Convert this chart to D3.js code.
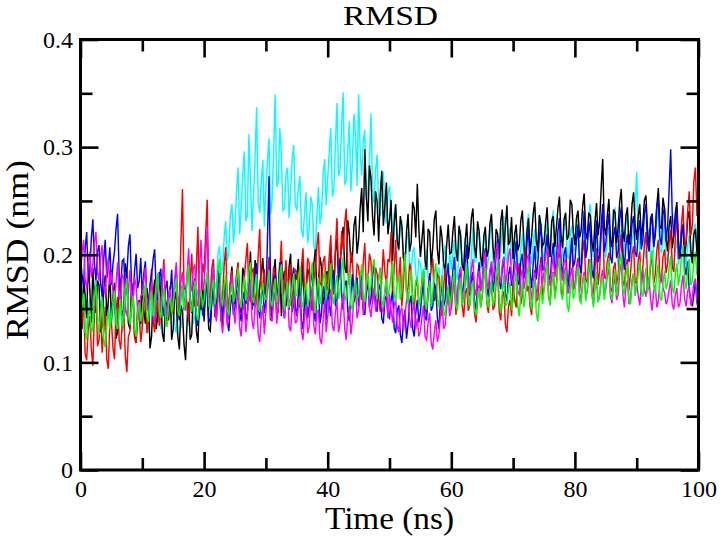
<!DOCTYPE html>
<html>
<head>
<meta charset="utf-8">
<script src="https://cdn.jsdelivr.net/npm/d3@7"></script>
<style>
html,body{margin:0;padding:0;background:#fff;}
svg{display:block;}
svg text{font-family:"Liberation Serif","Times New Roman",Times,serif !important;fill:#000;}
</style>
</head>
<body>
<svg id="chart" width="724" height="538"></svg>
<script>
// ---- data ----
const chartTitle = "RMSD";
const xTitle = "Time (ns)";
const yTitle = "RMSD (nm)";
const xTickValues = [0, 20, 40, 60, 80, 100];
const xTickLabels = ["0", "20", "40", "60", "80", "100"];
const xMinorTicks = [10, 30, 50, 70, 90];
const yTickValues = [0, 0.1, 0.2, 0.3, 0.4];
const yTickLabels = ["0", "0.1", "0.2", "0.3", "0.4"];
const yMinorTicks = [0.05, 0.15, 0.25, 0.35];

const time = [
0,0.25,0.5,0.75,1,1.25,1.5,1.75,2,2.25,2.5,2.75,3,3.25,3.5,3.75,4,4.25,4.5,4.75,
5,5.25,5.5,5.75,6,6.25,6.5,6.75,7,7.25,7.5,7.75,8,8.25,8.5,8.75,9,9.25,9.5,9.75,
10,10.25,10.5,10.75,11,11.25,11.5,11.75,12,12.25,12.5,12.75,13,13.25,13.5,13.75,14,14.25,14.5,14.75,
15,15.25,15.5,15.75,16,16.25,16.5,16.75,17,17.25,17.5,17.75,18,18.25,18.5,18.75,19,19.25,19.5,19.75,
20,20.25,20.5,20.75,21,21.25,21.5,21.75,22,22.25,22.5,22.75,23,23.25,23.5,23.75,24,24.25,24.5,24.75,
25,25.25,25.5,25.75,26,26.25,26.5,26.75,27,27.25,27.5,27.75,28,28.25,28.5,28.75,29,29.25,29.5,29.75,
30,30.25,30.5,30.75,31,31.25,31.5,31.75,32,32.25,32.5,32.75,33,33.25,33.5,33.75,34,34.25,34.5,34.75,
35,35.25,35.5,35.75,36,36.25,36.5,36.75,37,37.25,37.5,37.75,38,38.25,38.5,38.75,39,39.25,39.5,39.75,
40,40.25,40.5,40.75,41,41.25,41.5,41.75,42,42.25,42.5,42.75,43,43.25,43.5,43.75,44,44.25,44.5,44.75,
45,45.25,45.5,45.75,46,46.25,46.5,46.75,47,47.25,47.5,47.75,48,48.25,48.5,48.75,49,49.25,49.5,49.75,
50,50.25,50.5,50.75,51,51.25,51.5,51.75,52,52.25,52.5,52.75,53,53.25,53.5,53.75,54,54.25,54.5,54.75,
55,55.25,55.5,55.75,56,56.25,56.5,56.75,57,57.25,57.5,57.75,58,58.25,58.5,58.75,59,59.25,59.5,59.75,
60,60.25,60.5,60.75,61,61.25,61.5,61.75,62,62.25,62.5,62.75,63,63.25,63.5,63.75,64,64.25,64.5,64.75,
65,65.25,65.5,65.75,66,66.25,66.5,66.75,67,67.25,67.5,67.75,68,68.25,68.5,68.75,69,69.25,69.5,69.75,
70,70.25,70.5,70.75,71,71.25,71.5,71.75,72,72.25,72.5,72.75,73,73.25,73.5,73.75,74,74.25,74.5,74.75,
75,75.25,75.5,75.75,76,76.25,76.5,76.75,77,77.25,77.5,77.75,78,78.25,78.5,78.75,79,79.25,79.5,79.75,
80,80.25,80.5,80.75,81,81.25,81.5,81.75,82,82.25,82.5,82.75,83,83.25,83.5,83.75,84,84.25,84.5,84.75,
85,85.25,85.5,85.75,86,86.25,86.5,86.75,87,87.25,87.5,87.75,88,88.25,88.5,88.75,89,89.25,89.5,89.75,
90,90.25,90.5,90.75,91,91.25,91.5,91.75,92,92.25,92.5,92.75,93,93.25,93.5,93.75,94,94.25,94.5,94.75,
95,95.25,95.5,95.75,96,96.25,96.5,96.75,97,97.25,97.5,97.75,98,98.25,98.5,98.75,99,99.25,99.5,99.75,
100];

const rmsdBlack = [
0.152,0.131,0.178,0.163,0.141,0.194,0.169,0.137,0.188,0.159,0.146,0.176,0.172,0.128,0.134,0.167,0.181,0.143,0.157,0.185,
0.139,0.161,0.174,0.122,0.128,0.177,0.166,0.141,0.149,0.192,0.183,0.136,0.131,0.171,0.162,0.125,0.118,0.149,0.158,0.136,
0.171,0.148,0.136,0.169,0.158,0.113,0.124,0.162,0.177,0.131,0.143,0.184,0.161,0.127,0.119,0.158,0.152,0.139,0.168,0.121,
0.131,0.166,0.159,0.124,0.112,0.153,0.147,0.117,0.102,0.138,0.156,0.121,0.126,0.164,0.171,0.129,0.118,0.157,0.149,0.176,
0.138,0.172,0.166,0.131,0.129,0.158,0.181,0.142,0.147,0.186,0.163,0.139,0.134,0.168,0.177,0.145,0.152,0.174,0.189,0.153,
0.158,0.179,0.192,0.151,0.146,0.188,0.181,0.154,0.167,0.176,0.203,0.162,0.153,0.195,0.186,0.148,0.171,0.183,0.197,0.164,
0.162,0.174,0.188,0.139,0.149,0.181,0.196,0.158,0.171,0.193,0.143,0.176,0.185,0.152,0.164,0.189,0.201,0.147,0.155,0.182,
0.177,0.196,0.151,0.168,0.194,0.142,0.166,0.187,0.182,0.157,0.148,0.191,0.205,0.163,0.172,0.198,0.189,0.154,0.161,0.184,
0.184,0.163,0.208,0.179,0.172,0.203,0.215,0.176,0.191,0.211,0.226,0.188,0.183,0.232,0.219,0.192,0.198,0.227,0.236,0.201,
0.214,0.243,0.262,0.221,0.298,0.254,0.231,0.283,0.271,0.236,0.218,0.259,0.249,0.212,0.256,0.278,0.227,0.245,0.267,0.219,
0.232,0.251,0.194,0.228,0.247,0.213,0.205,0.236,0.226,0.197,0.188,0.221,0.238,0.203,0.211,0.249,0.243,0.216,0.266,0.224,
0.198,0.214,0.232,0.195,0.186,0.224,0.221,0.189,0.207,0.233,0.241,0.204,0.191,0.227,0.216,0.193,0.183,0.209,0.228,0.201,
0.202,0.221,0.236,0.205,0.194,0.227,0.218,0.191,0.185,0.213,0.229,0.196,0.211,0.234,0.243,0.208,0.197,0.231,0.222,0.199,
0.189,0.217,0.226,0.198,0.204,0.229,0.238,0.207,0.192,0.224,0.219,0.196,0.231,0.242,0.201,0.226,0.246,0.209,0.213,0.235,
0.196,0.219,0.228,0.204,0.209,0.232,0.241,0.211,0.187,0.222,0.234,0.201,0.217,0.238,0.249,0.214,0.203,0.237,0.226,0.208,
0.211,0.229,0.244,0.212,0.198,0.231,0.236,0.207,0.225,0.243,0.254,0.219,0.206,0.233,0.239,0.214,0.218,0.251,0.247,0.221,
0.209,0.234,0.241,0.216,0.222,0.245,0.257,0.221,0.214,0.239,0.236,0.212,0.203,0.231,0.248,0.218,0.231,0.262,0.289,0.226,
0.218,0.237,0.252,0.214,0.207,0.242,0.239,0.211,0.226,0.249,0.261,0.223,0.212,0.236,0.244,0.209,0.221,0.247,0.258,0.227,
0.214,0.236,0.247,0.213,0.229,0.251,0.255,0.222,0.206,0.234,0.238,0.209,0.219,0.245,0.262,0.227,0.224,0.253,0.243,0.216,
0.203,0.227,0.236,0.206,0.218,0.239,0.249,0.213,0.197,0.221,0.228,0.198,0.211,0.234,0.241,0.204,0.192,0.219,0.224,0.201,
0.205];

const rmsdRed = [
0.118,0.139,0.156,0.108,0.102,0.131,0.143,0.112,0.097,0.146,0.168,0.115,0.121,0.153,0.109,0.128,0.152,0.103,0.094,0.137,
0.138,0.114,0.103,0.149,0.161,0.121,0.112,0.136,0.147,0.106,0.091,0.124,0.129,0.158,0.174,0.122,0.118,0.151,0.143,0.119,
0.132,0.154,0.166,0.127,0.141,0.172,0.187,0.139,0.128,0.149,0.159,0.134,0.145,0.178,0.196,0.143,0.137,0.161,0.171,0.146,
0.148,0.171,0.183,0.142,0.157,0.212,0.261,0.168,0.169,0.153,0.138,0.176,0.201,0.159,0.152,0.189,0.226,0.147,0.164,0.192,
0.183,0.219,0.251,0.164,0.158,0.186,0.196,0.151,0.142,0.169,0.178,0.146,0.163,0.191,0.207,0.158,0.149,0.174,0.185,0.155,
0.161,0.182,0.193,0.154,0.148,0.173,0.179,0.195,0.211,0.163,0.156,0.184,0.188,0.151,0.166,0.199,0.224,0.168,0.172,0.187,
0.153,0.177,0.198,0.161,0.167,0.189,0.182,0.149,0.146,0.184,0.213,0.162,0.174,0.195,0.159,0.178,0.191,0.155,0.168,0.186,
0.184,0.165,0.157,0.189,0.206,0.163,0.169,0.197,0.192,0.158,0.148,0.176,0.187,0.208,0.221,0.174,0.171,0.193,0.199,0.167,
0.176,0.199,0.218,0.171,0.163,0.207,0.234,0.186,0.181,0.222,0.205,0.229,0.243,0.184,0.172,0.203,0.196,0.161,0.167,0.191,
0.189,0.172,0.158,0.193,0.211,0.168,0.176,0.201,0.194,0.157,0.163,0.188,0.182,0.161,0.147,0.179,0.205,0.184,0.171,0.196,
0.193,0.221,0.161,0.187,0.214,0.174,0.178,0.198,0.152,0.173,0.202,0.165,0.169,0.192,0.186,0.159,0.148,0.171,0.177,0.154,
0.158,0.176,0.184,0.152,0.145,0.168,0.173,0.187,0.196,0.157,0.161,0.182,0.179,0.151,0.143,0.169,0.188,0.155,0.166,0.181,
0.149,0.168,0.177,0.144,0.158,0.179,0.186,0.153,0.142,0.164,0.169,0.148,0.154,0.175,0.181,0.146,0.137,0.159,0.172,0.151,
0.161,0.178,0.189,0.155,0.146,0.168,0.174,0.149,0.152,0.176,0.183,0.147,0.139,0.161,0.166,0.135,0.128,0.152,0.158,0.143,
0.176,0.158,0.151,0.179,0.192,0.154,0.163,0.188,0.207,0.166,0.171,0.152,0.144,0.169,0.186,0.157,0.159,0.183,0.198,0.162,
0.168,0.185,0.193,0.159,0.157,0.178,0.184,0.163,0.172,0.196,0.205,0.167,0.161,0.182,0.188,0.164,0.176,0.199,0.213,0.171,
0.169,0.188,0.197,0.165,0.182,0.203,0.214,0.177,0.174,0.196,0.191,0.168,0.163,0.187,0.206,0.172,0.185,0.219,0.237,0.179,
0.178,0.194,0.202,0.169,0.166,0.187,0.193,0.172,0.181,0.205,0.219,0.176,0.171,0.191,0.196,0.167,0.183,0.201,0.208,0.174,
0.174,0.195,0.203,0.171,0.189,0.209,0.221,0.178,0.168,0.192,0.197,0.173,0.182,0.204,0.214,0.179,0.176,0.198,0.205,0.183,
0.192,0.211,0.223,0.189,0.184,0.217,0.238,0.196,0.201,0.229,0.246,0.207,0.213,0.241,0.259,0.218,0.227,0.268,0.281,0.236,
0.262];

const rmsdBlue = [
0.198,0.181,0.171,0.206,0.221,0.179,0.184,0.215,0.233,0.192,0.176,0.203,0.209,0.174,0.161,0.196,0.214,0.178,0.189,0.207,
0.172,0.191,0.203,0.224,0.238,0.183,0.168,0.194,0.196,0.163,0.181,0.208,0.219,0.174,0.157,0.185,0.201,0.169,0.176,0.197,
0.162,0.183,0.194,0.157,0.148,0.171,0.181,0.196,0.205,0.166,0.158,0.179,0.187,0.152,0.143,0.168,0.176,0.151,0.164,0.186,
0.153,0.171,0.184,0.148,0.139,0.163,0.172,0.149,0.161,0.182,0.191,0.157,0.146,0.169,0.178,0.141,0.134,0.156,0.167,0.145,
0.148,0.164,0.176,0.141,0.137,0.159,0.169,0.146,0.155,0.174,0.183,0.152,0.142,0.165,0.171,0.138,0.129,0.152,0.163,0.144,
0.152,0.168,0.181,0.147,0.138,0.159,0.166,0.139,0.145,0.171,0.177,0.149,0.158,0.182,0.192,0.153,0.141,0.162,0.169,0.146,
0.157,0.214,0.273,0.176,0.148,0.167,0.182,0.154,0.163,0.185,0.194,0.158,0.141,0.162,0.176,0.149,0.159,0.178,0.188,0.151,
0.143,0.164,0.172,0.139,0.131,0.154,0.167,0.141,0.152,0.176,0.184,0.147,0.138,0.161,0.175,0.136,0.146,0.171,0.162,0.139,
0.171,0.154,0.143,0.168,0.186,0.152,0.158,0.181,0.197,0.163,0.149,0.172,0.176,0.147,0.138,0.164,0.182,0.156,0.161,0.179,
0.152,0.171,0.181,0.149,0.144,0.166,0.173,0.151,0.159,0.182,0.191,0.154,0.147,0.173,0.168,0.141,0.136,0.158,0.162,0.143,
0.141,0.157,0.166,0.132,0.127,0.148,0.153,0.126,0.118,0.139,0.149,0.122,0.135,0.156,0.162,0.131,0.124,0.146,0.158,0.137,
0.147,0.163,0.175,0.142,0.139,0.166,0.183,0.148,0.152,0.174,0.168,0.141,0.131,0.159,0.176,0.152,0.158,0.181,0.192,0.161,
0.166,0.185,0.198,0.163,0.154,0.176,0.187,0.159,0.171,0.194,0.209,0.168,0.162,0.179,0.184,0.156,0.149,0.178,0.193,0.167,
0.174,0.193,0.206,0.169,0.161,0.183,0.192,0.165,0.178,0.201,0.215,0.176,0.168,0.187,0.198,0.163,0.157,0.181,0.189,0.171,
0.181,0.199,0.213,0.176,0.172,0.194,0.201,0.178,0.186,0.212,0.224,0.183,0.169,0.191,0.208,0.177,0.193,0.217,0.229,0.186,
0.187,0.206,0.219,0.181,0.176,0.198,0.211,0.184,0.193,0.222,0.234,0.191,0.182,0.201,0.207,0.178,0.171,0.197,0.216,0.189,
0.194,0.213,0.228,0.191,0.183,0.216,0.241,0.197,0.206,0.231,0.219,0.186,0.178,0.204,0.232,0.193,0.199,0.226,0.247,0.203,
0.211,0.227,0.238,0.198,0.192,0.218,0.226,0.197,0.203,0.233,0.244,0.204,0.186,0.209,0.219,0.193,0.207,0.229,0.236,0.202,
0.198,0.221,0.232,0.205,0.214,0.239,0.247,0.211,0.203,0.226,0.238,0.207,0.221,0.245,0.251,0.216,0.209,0.237,0.244,0.212,
0.226,0.261,0.298,0.238,0.217,0.231,0.243,0.207,0.196,0.219,0.228,0.189,0.181,0.194,0.167,0.158,0.152,0.163,0.175,0.156,
0.148];

const rmsdCyan = [
0.142,0.157,0.168,0.136,0.131,0.151,0.159,0.134,0.147,0.165,0.176,0.143,0.138,0.154,0.163,0.132,0.129,0.146,0.155,0.137,
0.137,0.149,0.161,0.131,0.126,0.144,0.152,0.128,0.141,0.162,0.169,0.138,0.133,0.151,0.158,0.127,0.122,0.139,0.147,0.131,
0.139,0.154,0.163,0.133,0.128,0.147,0.156,0.136,0.144,0.162,0.171,0.139,0.131,0.149,0.159,0.134,0.137,0.155,0.166,0.141,
0.148,0.135,0.127,0.152,0.161,0.132,0.139,0.164,0.172,0.141,0.134,0.153,0.157,0.136,0.143,0.161,0.168,0.142,0.151,0.173,
0.158,0.171,0.183,0.152,0.167,0.189,0.196,0.168,0.174,0.201,0.208,0.181,0.189,0.216,0.231,0.194,0.203,0.236,0.247,0.211,
0.228,0.259,0.281,0.219,0.243,0.274,0.296,0.231,0.236,0.312,0.271,0.222,0.254,0.291,0.337,0.248,0.239,0.268,0.288,0.226,
0.262,0.287,0.308,0.238,0.251,0.296,0.349,0.263,0.267,0.318,0.294,0.241,0.243,0.275,0.281,0.234,0.258,0.289,0.302,0.247,
0.241,0.262,0.273,0.224,0.216,0.239,0.258,0.211,0.223,0.254,0.247,0.208,0.204,0.236,0.263,0.229,0.238,0.274,0.289,0.246,
0.271,0.296,0.318,0.254,0.262,0.303,0.341,0.273,0.279,0.322,0.351,0.266,0.268,0.297,0.324,0.259,0.286,0.331,0.312,0.264,
0.349,0.297,0.274,0.305,0.316,0.251,0.259,0.288,0.331,0.262,0.248,0.279,0.293,0.244,0.236,0.268,0.277,0.241,0.229,0.256,
0.264,0.236,0.218,0.239,0.246,0.211,0.203,0.227,0.232,0.198,0.191,0.214,0.221,0.193,0.184,0.203,0.207,0.182,0.176,0.195,
0.192,0.177,0.168,0.191,0.205,0.179,0.173,0.194,0.197,0.171,0.161,0.183,0.188,0.166,0.174,0.198,0.209,0.186,0.181,0.202,
0.186,0.203,0.214,0.183,0.177,0.204,0.223,0.189,0.191,0.216,0.208,0.181,0.172,0.199,0.226,0.193,0.194,0.221,0.218,0.188,
0.187,0.209,0.221,0.186,0.196,0.218,0.232,0.194,0.181,0.203,0.214,0.189,0.203,0.228,0.236,0.198,0.192,0.216,0.225,0.191,
0.198,0.214,0.227,0.193,0.184,0.207,0.219,0.195,0.206,0.229,0.238,0.201,0.191,0.212,0.224,0.196,0.209,0.236,0.231,0.203,
0.193,0.216,0.229,0.197,0.207,0.231,0.241,0.203,0.188,0.209,0.218,0.192,0.201,0.226,0.234,0.199,0.196,0.221,0.227,0.204,
0.204,0.221,0.236,0.199,0.192,0.216,0.228,0.201,0.211,0.238,0.247,0.207,0.198,0.223,0.232,0.202,0.206,0.229,0.239,0.208,
0.197,0.218,0.226,0.204,0.213,0.233,0.244,0.206,0.189,0.211,0.223,0.198,0.208,0.229,0.237,0.201,0.194,0.215,0.219,0.243,
0.277,0.226,0.203,0.219,0.231,0.207,0.196,0.214,0.224,0.198,0.188,0.209,0.216,0.232,0.241,0.206,0.201,0.219,0.228,0.197,
0.194,0.211,0.222,0.193,0.186,0.205,0.214,0.191,0.201,0.226,0.236,0.204,0.191,0.209,0.218,0.196,0.207,0.224,0.229,0.208,
0.215];

const rmsdMagenta = [
0.182,0.201,0.214,0.177,0.168,0.193,0.203,0.179,0.191,0.212,0.221,0.184,0.176,0.198,0.209,0.171,0.163,0.186,0.197,0.172,
0.184,0.166,0.152,0.174,0.193,0.158,0.161,0.182,0.178,0.149,0.143,0.167,0.186,0.163,0.157,0.179,0.171,0.148,0.139,0.162,
0.163,0.176,0.188,0.152,0.147,0.166,0.172,0.144,0.136,0.158,0.179,0.149,0.154,0.177,0.191,0.156,0.143,0.161,0.168,0.151,
0.157,0.178,0.193,0.155,0.161,0.176,0.184,0.153,0.148,0.182,0.206,0.164,0.169,0.187,0.191,0.158,0.152,0.189,0.214,0.167,
0.173,0.198,0.226,0.164,0.151,0.172,0.189,0.146,0.138,0.159,0.174,0.139,0.127,0.148,0.162,0.134,0.144,0.168,0.181,0.149,
0.136,0.154,0.168,0.133,0.124,0.147,0.157,0.128,0.142,0.165,0.176,0.139,0.131,0.152,0.161,0.127,0.119,0.141,0.153,0.126,
0.147,0.168,0.179,0.142,0.138,0.157,0.166,0.136,0.152,0.174,0.188,0.149,0.141,0.162,0.172,0.133,0.129,0.151,0.163,0.137,
0.138,0.151,0.162,0.129,0.121,0.143,0.154,0.127,0.133,0.158,0.171,0.134,0.126,0.146,0.149,0.122,0.117,0.139,0.158,0.128,
0.142,0.156,0.168,0.134,0.129,0.147,0.157,0.128,0.136,0.153,0.164,0.131,0.121,0.143,0.152,0.126,0.139,0.161,0.173,0.141,
0.148,0.163,0.176,0.144,0.157,0.171,0.183,0.152,0.142,0.158,0.169,0.147,0.161,0.179,0.188,0.151,0.146,0.164,0.172,0.141,
0.164,0.149,0.137,0.152,0.159,0.134,0.128,0.147,0.151,0.129,0.143,0.157,0.166,0.141,0.132,0.148,0.155,0.131,0.141,0.124,
0.129,0.142,0.153,0.124,0.121,0.137,0.146,0.118,0.112,0.128,0.139,0.119,0.126,0.144,0.158,0.131,0.134,0.151,0.162,0.143,
0.151,0.167,0.178,0.152,0.163,0.181,0.189,0.164,0.157,0.176,0.183,0.161,0.171,0.187,0.196,0.169,0.162,0.178,0.185,0.166,
0.176,0.192,0.203,0.174,0.169,0.186,0.194,0.177,0.188,0.205,0.211,0.181,0.173,0.191,0.198,0.172,0.182,0.199,0.206,0.178,
0.172,0.186,0.194,0.166,0.163,0.179,0.187,0.168,0.178,0.196,0.201,0.171,0.158,0.174,0.183,0.162,0.169,0.188,0.192,0.173,
0.184,0.199,0.207,0.178,0.171,0.189,0.198,0.179,0.189,0.204,0.212,0.183,0.176,0.193,0.196,0.171,0.164,0.181,0.188,0.168,
0.171,0.185,0.193,0.164,0.158,0.176,0.184,0.161,0.166,0.183,0.191,0.163,0.154,0.171,0.178,0.156,0.162,0.179,0.186,0.165,
0.168,0.181,0.187,0.161,0.155,0.172,0.179,0.158,0.163,0.184,0.192,0.164,0.151,0.169,0.176,0.154,0.159,0.177,0.183,0.162,
0.174,0.162,0.153,0.171,0.186,0.167,0.161,0.176,0.179,0.158,0.148,0.166,0.172,0.151,0.157,0.174,0.183,0.169,0.165,0.154,
0.158,0.168,0.176,0.154,0.149,0.163,0.169,0.151,0.155,0.172,0.181,0.159,0.152,0.166,0.171,0.153,0.161,0.174,0.178,0.157,
0.167];

const rmsdGreen = [
0.138,0.152,0.164,0.129,0.121,0.143,0.152,0.127,0.133,0.161,0.171,0.139,0.126,0.147,0.158,0.122,0.114,0.136,0.149,0.131,
0.142,0.158,0.167,0.136,0.131,0.149,0.159,0.134,0.146,0.168,0.178,0.143,0.135,0.153,0.162,0.131,0.124,0.145,0.156,0.138,
0.149,0.163,0.174,0.142,0.138,0.157,0.166,0.143,0.152,0.172,0.183,0.148,0.141,0.159,0.169,0.139,0.133,0.152,0.161,0.146,
0.154,0.169,0.179,0.148,0.143,0.162,0.172,0.149,0.158,0.181,0.191,0.155,0.147,0.166,0.176,0.144,0.139,0.158,0.168,0.151,
0.158,0.173,0.184,0.153,0.149,0.168,0.177,0.154,0.163,0.186,0.196,0.159,0.152,0.171,0.181,0.148,0.144,0.162,0.173,0.156,
0.161,0.176,0.188,0.156,0.151,0.169,0.179,0.157,0.166,0.184,0.193,0.161,0.155,0.173,0.182,0.151,0.147,0.165,0.174,0.158,
0.159,0.174,0.186,0.157,0.152,0.169,0.178,0.155,0.164,0.182,0.191,0.158,0.148,0.167,0.176,0.151,0.157,0.171,0.183,0.162,
0.162,0.178,0.189,0.157,0.151,0.166,0.174,0.153,0.158,0.181,0.193,0.159,0.146,0.168,0.179,0.154,0.163,0.177,0.186,0.159,
0.166,0.179,0.192,0.161,0.154,0.172,0.181,0.159,0.168,0.187,0.198,0.163,0.157,0.174,0.184,0.153,0.149,0.168,0.177,0.158,
0.163,0.179,0.191,0.161,0.156,0.173,0.183,0.162,0.171,0.189,0.196,0.164,0.159,0.176,0.187,0.157,0.152,0.169,0.178,0.161,
0.168,0.182,0.194,0.163,0.157,0.174,0.182,0.158,0.166,0.188,0.201,0.167,0.154,0.172,0.186,0.156,0.161,0.176,0.179,0.152,
0.158,0.174,0.187,0.154,0.149,0.166,0.176,0.152,0.164,0.183,0.192,0.159,0.151,0.168,0.181,0.147,0.143,0.161,0.172,0.153,
0.161,0.176,0.186,0.153,0.148,0.168,0.179,0.154,0.157,0.181,0.191,0.158,0.152,0.171,0.176,0.149,0.144,0.162,0.169,0.151,
0.163,0.178,0.188,0.156,0.151,0.167,0.177,0.153,0.159,0.183,0.193,0.158,0.146,0.165,0.181,0.152,0.155,0.169,0.174,0.149,
0.157,0.172,0.185,0.152,0.143,0.163,0.176,0.151,0.162,0.182,0.191,0.157,0.149,0.168,0.179,0.146,0.138,0.159,0.171,0.154,
0.166,0.181,0.192,0.161,0.153,0.172,0.183,0.159,0.169,0.188,0.197,0.164,0.158,0.176,0.186,0.154,0.147,0.167,0.178,0.159,
0.164,0.179,0.189,0.158,0.155,0.172,0.181,0.157,0.167,0.186,0.196,0.163,0.151,0.171,0.184,0.156,0.162,0.176,0.178,0.158,
0.171,0.186,0.197,0.164,0.158,0.177,0.186,0.162,0.173,0.193,0.202,0.168,0.163,0.181,0.191,0.159,0.154,0.172,0.183,0.163,
0.169,0.183,0.194,0.166,0.161,0.178,0.188,0.164,0.176,0.195,0.204,0.171,0.165,0.182,0.192,0.161,0.157,0.174,0.185,0.168,
0.173,0.188,0.199,0.169,0.164,0.182,0.192,0.171,0.181,0.198,0.209,0.176,0.168,0.186,0.196,0.172,0.176,0.193,0.203,0.181,
0.188];

const seriesNames = ["cyan", "black", "red", "blue", "magenta", "green"];
const seriesValues = [rmsdCyan, rmsdBlack, rmsdRed, rmsdBlue, rmsdMagenta, rmsdGreen];
const seriesColors = ["#00ffff", "#000000", "#ff0000", "#0000ff", "#ff00ff", "#00ff00"];

// ---- layout ----
const W = 724, H = 538;
const margin = {left: 80.5, right: 25.5, top: 39.5, bottom: 68};
const pw = W - margin.left - margin.right;
const ph = H - margin.top - margin.bottom;
const serif = '"Liberation Serif","Times New Roman",Times,serif';

const svg = d3.select("#chart");
const g = svg.append("g").attr("transform", `translate(${margin.left},${margin.top})`);

const x = d3.scaleLinear().domain([0, 100]).range([0, pw]);
const y = d3.scaleLinear().domain([0, 0.4]).range([ph, 0]);

g.append("clipPath").attr("id", "clip").append("rect")
  .attr("x", 0).attr("y", 0).attr("width", pw).attr("height", ph);

const line = d3.line().x((d, i) => x(time[i])).y(d => y(d));

const dataG = g.append("g").attr("clip-path", "url(#clip)");
seriesValues.forEach((vals, k) => {
  dataG.append("path")
    .datum(vals)
    .attr("fill", "none")
    .attr("stroke", seriesColors[k])
    .attr("stroke-width", 1.45)
    .attr("stroke-linejoin", "miter")
    .attr("d", line);
});

// ---- axes (ticks inward on all four sides) ----
const fontTick = 24;
function styleAxis(sel, tickW) {
  sel.attr("font-family", serif);
  sel.select(".domain").remove();
  sel.selectAll(".tick line").attr("stroke", "#000").attr("stroke-width", tickW);
  sel.selectAll(".tick text").style("font-family", serif).attr("font-size", fontTick);
}

const xMajor = g.append("g").attr("transform", `translate(0,${ph})`)
  .call(d3.axisBottom(x).tickValues(xTickValues).tickSize(-18).tickPadding(10)
    .tickFormat((d, i) => xTickLabels[i]));
styleAxis(xMajor, 2.6);

const xMinor = g.append("g").attr("transform", `translate(0,${ph})`)
  .call(d3.axisBottom(x).tickValues(xMinorTicks).tickSize(-12).tickFormat(""));
styleAxis(xMinor, 2.6);

const xTopMajor = g.append("g")
  .call(d3.axisTop(x).tickValues(xTickValues).tickSize(-18).tickFormat(""));
styleAxis(xTopMajor, 2.6);
const xTopMinor = g.append("g")
  .call(d3.axisTop(x).tickValues(xMinorTicks).tickSize(-12).tickFormat(""));
styleAxis(xTopMinor, 2.6);

const yMajor = g.append("g")
  .call(d3.axisLeft(y).tickValues(yTickValues).tickSize(-18).tickPadding(7.5)
    .tickFormat((d, i) => yTickLabels[i]));
styleAxis(yMajor, 2.6);

const yMinor = g.append("g")
  .call(d3.axisLeft(y).tickValues(yMinorTicks).tickSize(-12).tickFormat(""));
styleAxis(yMinor, 2.6);

const yRightMajor = g.append("g").attr("transform", `translate(${pw},0)`)
  .call(d3.axisRight(y).tickValues(yTickValues).tickSize(-18).tickFormat(""));
styleAxis(yRightMajor, 2.6);
const yRightMinor = g.append("g").attr("transform", `translate(${pw},0)`)
  .call(d3.axisRight(y).tickValues(yMinorTicks).tickSize(-12).tickFormat(""));
styleAxis(yRightMinor, 2.6);

// frame
g.append("rect").attr("x", 0).attr("y", 0).attr("width", pw).attr("height", ph)
  .attr("fill", "none").attr("stroke", "#000").attr("stroke-width", 3);

// ---- titles ----
svg.append("text").attr("x", 390.5).attr("y", 25)
  .style("font-family", serif)
  .attr("text-anchor", "middle").attr("font-size", 27)
  .attr("textLength", 95).attr("lengthAdjust", "spacingAndGlyphs")
  .text(chartTitle);

svg.append("text").attr("x", 389.5).attr("y", 529)
  .style("font-family", serif)
  .attr("text-anchor", "middle").attr("font-size", 31)
  .attr("textLength", 129).attr("lengthAdjust", "spacingAndGlyphs")
  .text(xTitle);

svg.append("text").attr("transform", "translate(28,250) rotate(-90)")
  .style("font-family", serif)
  .attr("text-anchor", "middle").attr("font-size", 32)
  .attr("textLength", 180).attr("lengthAdjust", "spacingAndGlyphs")
  .text(yTitle);
</script>
</body>
</html>
